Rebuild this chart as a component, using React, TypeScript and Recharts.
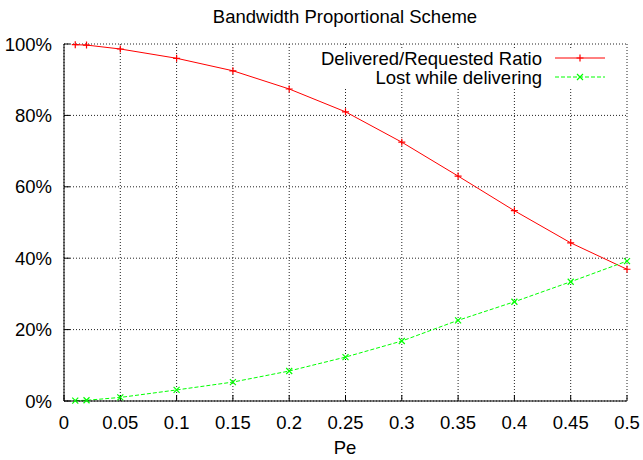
import { LineChart, Line, XAxis, YAxis, CartesianGrid, Legend } from 'recharts';

// Pe on the x axis, both series in percent
const peValues = [0.01, 0.02, 0.05, 0.1, 0.15, 0.2, 0.25, 0.3, 0.35, 0.4, 0.45, 0.5];
const deliveredRatio = [99.8, 99.7, 98.6, 96.0, 92.5, 87.4, 81.0, 72.5, 63.0, 53.3, 44.3, 36.9];
const lostWhileDelivering = [0.1, 0.2, 1.0, 3.1, 5.3, 8.4, 12.3, 16.8, 22.6, 27.8, 33.4, 39.2];

const xTicks = [0, 0.05, 0.1, 0.15, 0.2, 0.25, 0.3, 0.35, 0.4, 0.45, 0.5];
const yTicks = [0, 20, 40, 60, 80, 100];

const seriesNames = ['Delivered/Requested Ratio', 'Lost while delivering'];
const RED = '#ff0000';
const GREEN = '#00ff00';
const FONT = '"Liberation Sans", Arial, Helvetica, sans-serif';

const data = peValues.map((pe, i) => ({
  pe,
  delivered: deliveredRatio[i],
  lost: lostWhileDelivering[i],
}));

const PlusDot = (props: any) => {
  const { cx, cy, index } = props;
  if (cx == null || cy == null) return null;
  return (
    <path
      key={`plus-${index}`}
      d={`M${cx - 3.5},${cy}H${cx + 3.5}M${cx},${cy - 3.5}V${cy + 3.5}`}
      stroke={RED}
      strokeWidth={1.2}
      fill="none"
    />
  );
};

const CrossDot = (props: any) => {
  const { cx, cy, index } = props;
  if (cx == null || cy == null) return null;
  return (
    <path
      key={`cross-${index}`}
      d={`M${cx - 3},${cy - 3}L${cx + 3},${cy + 3}M${cx - 3},${cy + 3}L${cx + 3},${cy - 3}`}
      stroke={GREEN}
      strokeWidth={1.2}
      fill="none"
    />
  );
};

// gnuplot-like key: right-aligned labels, then a line sample with the marker
const KeyContent = () => (
  <svg width={307} height={37} style={{ display: 'block', overflow: 'visible' }}>
    <rect x={0} y={0} width={307} height={37} fill="#fff" />
    {seriesNames.map((name, i) => {
      const y = 8 + i * 19;
      const color = i === 0 ? RED : GREEN;
      return (
        <g key={name}>
          <text
            x={224}
            y={y}
            dy="0.355em"
            textAnchor="end"
            fontFamily={FONT}
            fontSize={18.5}
            fill="#000"
          >
            {name}
          </text>
          <line
            x1={237}
            x2={287}
            y1={y}
            y2={y}
            stroke={color}
            strokeWidth={1}
            strokeDasharray={i === 0 ? undefined : '4 2'}
          />
          {i === 0 ? (
            <PlusDot cx={262} cy={y} index={0} />
          ) : (
            <CrossDot cx={262} cy={y} index={0} />
          )}
        </g>
      );
    })}
  </svg>
);

export default function App() {
  const tickStyle = { fill: '#000', fontSize: 18.5, fontFamily: FONT };
  return (
    <div style={{ position: 'absolute', left: 0, top: 0, width: 643, height: 460, background: '#fff' }}>
      <LineChart
        width={643}
        height={460}
        data={data}
        margin={{ top: 44, right: 16, bottom: 0, left: 0 }}
        style={{ fontFamily: FONT }}
      >
        <CartesianGrid
          stroke="#222"
          strokeDasharray="1 2"
          horizontalValues={yTicks}
          verticalValues={xTicks}
        />
        <XAxis
          dataKey="pe"
          type="number"
          domain={[0, 0.5]}
          ticks={xTicks}
          tickFormatter={(v: number) => String(v)}
          height={59}
          tick={tickStyle}
          tickSize={-6}
          tickMargin={21}
          tickLine={{ stroke: '#000' }}
          axisLine={{ stroke: '#000' }}
          interval={0}
        />
        <XAxis
          xAxisId="top"
          orientation="top"
          type="number"
          domain={[0, 0.5]}
          ticks={xTicks}
          height={0}
          tick={false}
          tickSize={-6}
          tickLine={{ stroke: '#000' }}
          axisLine={{ stroke: '#000' }}
        />
        <YAxis
          type="number"
          domain={[0, 100]}
          ticks={yTicks}
          tickFormatter={(v: number) => `${v}%`}
          width={64}
          tick={tickStyle}
          tickSize={-6}
          tickMargin={18}
          tickLine={{ stroke: '#000' }}
          axisLine={{ stroke: '#000' }}
          interval={0}
        />
        <YAxis
          yAxisId="right"
          orientation="right"
          type="number"
          domain={[0, 100]}
          ticks={yTicks}
          width={0}
          tick={false}
          tickSize={-6}
          tickLine={{ stroke: '#000' }}
          axisLine={{ stroke: '#000' }}
        />
        <Line
          type="linear"
          dataKey="delivered"
          name={seriesNames[0]}
          stroke={RED}
          strokeWidth={1}
          dot={PlusDot}
          activeDot={false}
          isAnimationActive={false}
        />
        <Line
          type="linear"
          dataKey="lost"
          name={seriesNames[1]}
          stroke={GREEN}
          strokeWidth={1}
          strokeDasharray="4 2"
          dot={CrossDot}
          activeDot={false}
          isAnimationActive={false}
        />
        <Legend
          layout="horizontal"
          verticalAlign="middle"
          align="center"
          content={KeyContent}
          wrapperStyle={{ position: 'absolute', top: 50, left: 318, width: 307, height: 37 }}
        />
        <text x={345} y={22.7} textAnchor="middle" fontFamily={FONT} fontSize={18.5} fill="#000">
          Bandwidth Proportional Scheme
        </text>
        <text x={345} y={454} textAnchor="middle" fontFamily={FONT} fontSize={18.5} fill="#000">
          Pe
        </text>
      </LineChart>
    </div>
  );
}
